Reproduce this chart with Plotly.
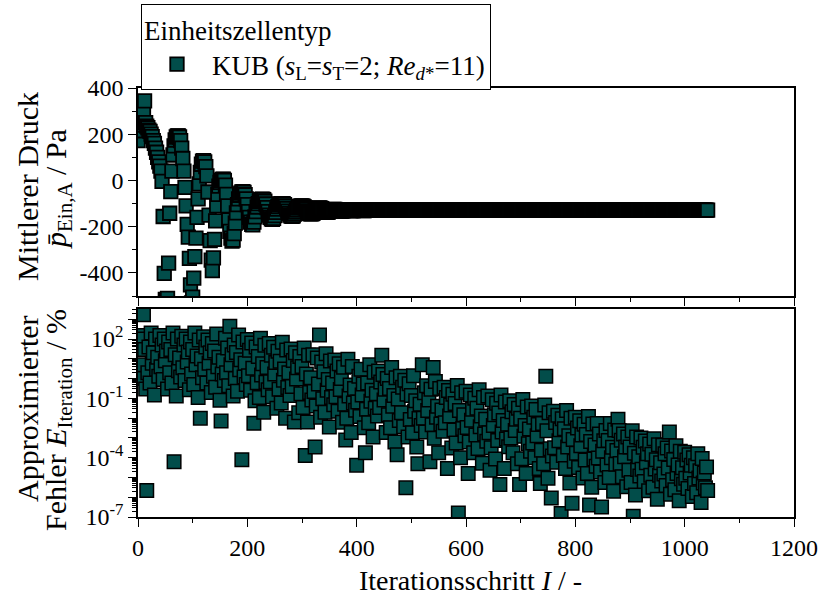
import plotly.graph_objects as go

# ---------------- data ----------------
# mean inlet pressure (Pa), one value every 2 iterations (0, 2, 4, ...)
P_MEAN = [
    172, 215, 262, 250, 240, 300, 344, 250, 235, 228,          # 0
    218, 212, 200, 190, 172, 160, 140, 122, 100, 80,           # 20
    62, 40, -4, -156, -402, -515, -520, -510, -358, -142,      # 40
    -48, 40, 110, 150, 175, 188, 193, 193, 188, 172,           # 60
    140, 95, 40, -30, -110, -190, -245, -337, -452, -530,      # 80
    -505, -423, -330, -250, -160, -80, -15, 35, 70, 84,        # 100
    86, 80, 60, 20, -50, -150, -260, -345, -390, -335,         # 120
    -255, -175, -110, -60, -25, -8, 0, 5, 6, 0,                # 140
    -20, -60, -110, -170, -220, -250, -262, -258, -230, -185,  # 160
    -140, -105, -80, -64, -55, -50, -49, -52, -62, -80,        # 180
    -105, -135, -160, -180, -190, -192, -180, -158, -135, -115,  # 200
    -100, -90, -84, -82, -81, -83, -90, -102, -118, -135,      # 220
    -150, -160, -166, -168, -164, -152, -138, -124, -113, -106,  # 240
    -102, -100, -100, -101, -105, -112, -122, -133, -143, -150,  # 260
    -154, -155, -153, -146, -137, -128, -120, -115, -112, -110,  # 280
    -110, -111, -114, -119, -126, -133, -139, -143, -145, -145,  # 300
    -142, -137, -131, -126, -122, -120, -119, -120, -122, -126,  # 320
    -130, -134, -137, -138, -137, -134, -131, -128, -126, -125,  # 340
    -125, -126, -128, -130, -132, -133, -133, -132, -130, -128,  # 360
    -127, -127, -128, -129, -130, -131, -131, -130, -129, -128,  # 380
    -127, -126, -126, -127, -128, -129, -130, -130, -129, -128,  # 400
    -127, -127, -127, -128, -129, -129, -129, -128, -128, -127,  # 420
    -127, -127, -128, -128, -129, -129, -128, -128, -128, -127,  # 440
    -128, -128, -128, -129, -129, -128, -128, -128, -128, -128,  # 460
    -128, -128, -127, -128, -128, -129, -129, -128, -128, -128,  # 480
    -128, -128, -128, -128, -129, -128, -128, -128, -127, -128,  # 500
    -128, -128, -129, -128, -128, -128, -128, -127, -128, -128,  # 520
    -128, -129, -128, -128, -128, -128, -128, -128, -129, -128,  # 540
    -128, -128, -127, -128, -128, -128, -129, -128, -128, -128,  # 560
    -128, -128, -128, -128, -128, -129, -128, -128, -128, -127,  # 580
    -128, -128, -128, -129, -128, -128, -128, -128, -128, -128,  # 600
    -127, -128, -128, -128, -128, -129, -128, -128, -128, -128,  # 620
    -128, -128, -128, -128, -127, -128, -128, -129, -128, -128,  # 640
    -128, -128, -129, -128, -128, -128, -128, -128, -127, -128,  # 660
    -128, -128, -128, -128, -128, -128, -129, -128, -128, -128,  # 680
    -128, -127, -128, -128, -128, -128, -128, -128, -129, -128,  # 700
    -128, -128, -128, -129, -128, -128, -127, -128, -128, -128,  # 720
    -128, -128, -128, -128, -128, -129, -128, -128, -128, -128,  # 740
    -127, -128, -128, -128, -129, -128, -128, -128, -128, -128,  # 760
    -128, -128, -128, -127, -128, -128, -128, -129, -128, -128,  # 780
    -128, -128, -129, -128, -128, -128, -128, -128, -127, -128,  # 800
    -128, -128, -128, -128, -128, -129, -128, -128, -128, -128,  # 820
    -128, -127, -128, -128, -128, -128, -128, -129, -128, -128,  # 840
    -128, -128, -128, -128, -129, -128, -128, -127, -128, -128,  # 860
    -128, -128, -128, -128, -128, -128, -129, -128, -128, -128,  # 880
    -127, -128, -128, -128, -128, -128, -128, -128, -129, -128,  # 900
    -128, -128, -129, -128, -128, -127, -128, -128, -128, -128,  # 920
    -128, -128, -128, -128, -128, -128, -128, -129, -128, -128,  # 940
    -128, -127, -128, -128, -128, -129, -128, -128, -128, -128,  # 960
    -128, -128, -128, -128, -127, -128, -128, -128, -129, -128,  # 980
    -128, -128, -128, -129, -128, -128, -128, -128, -128, -127,  # 1000
    -128, -128, -128, -128, -128, -128, -129, -128, -128, -128,  # 1020
    -128, -128,                                                 # 1040
]
ITER_P = list(range(0, 2 * len(P_MEAN), 2))

# approximated iteration error (%), one value every 2 iterations (0, 2, 4, ...)
E_ITER = [
    1.5e2, 5, 5e1, 1, 1e2, 1.7e3, 3e1, 3e-1, 2.2e-6, 2,                              # 0
    4e1, 6e-1, 2e2, 6, 2e1, 1.5e-1, 1e2, 3, 1.2e1, 1.3,                              # 20
    1.5e2, 4, 5e1, 9e-1, 1e2, 8, 2.5e1, 3e-1, 7e1, 2,                                # 40
    3e1, 6e-1, 2e2, 6.3e-5, 1.6e1, 1.3e-1, 1e2, 2.5, 1.1e1, 1.2,                     # 60
    1.4e2, 3.5, 5e1, 8e-1, 1e2, 7, 2.2e1, 2.7e-1, 7e1, 1.7,                          # 80
    3e1, 5e-1, 2e2, 5, 1.4e1, 1.1e-1, 9e1, 1e-2, 1e1, 1.1,                           # 100
    1.3e2, 3, 4e1, 6e-1, 9e1, 6, 2e1, 2e-1, 6e1, 1.3,                                # 120
    2.5e1, 3.7e-1, 1.8e2, 4, 1.2e1, 8e-2, 7.1e-3, 1.7, 8, 8e-1,                      # 140
    1.1e2, 2, 3.5e1, 4.4e-1, 4.4e2, 5, 1.6e1, 1.3e-1, 5e1, 1,                        # 160
    2.1e1, 2.3e-1, 1.6e2, 2.8, 9, 7.9e-5, 7e1, 1.2, 6, 5e-1,                         # 180
    9.5e1, 1.4, 2.7e1, 2.6e-1, 6.3e1, 3.3, 5.5e-3, 7.6e-2, 4e1, 6.2e-1,              # 200
    1.3e1, 1.1e-1, 1.1e2, 1.5, 5.6, 2e-2, 4.9e1, 6.5e-1, 3.6, 2.7e-1,                # 220
    5.9e1, 6.9e-1, 1.5e1, 1.2e-1, 3.8e1, 1.7, 6.5, 3.2e-2, 2.4e1, 2.9e-1,            # 240
    7.6, 5.9e-2, 6.8e1, 8.3e-1, 3.1, 1e-2, 2.8e1, 3.5e-1, 2, 1.4e-1,                 # 260
    3.1e1, 4e-1, 8.3, 6.3e-3, 2e1, 9.5e-1, 3.5, 1.9e-2, 1.3e1, 1.7e-1,               # 280
    4.1, 3.5e-2, 3.5e1, 1.3e-4, 1.7, 6.3e-3, 1.5e1, 2e-1, 1.1, 8.3e-2,               # 300
    1.6e1, 2.2e-1, 3.5e-4, 4.1e-2, 1.1e1, 5.4e-1, 1.6e2, 1.1e-2, 6.9, 9.5e-2,        # 320
    2.2, 2e-2, 1.8e1, 2.6e-1, 9.1e-1, 3.6e-3, 7.8, 1.1e-1, 6e-1, 4.7e-2,             # 340
    8.7, 1.2e-1, 2.4, 2.2e-2, 5.6, 2.8e-1, 1, 6.2e-3, 3.7, 5.1e-2,                   # 360
    7.9e-4, 1e-2, 9.5, 1.3e-1, 4.8e-1, 1.9e-3, 4.1, 5.8e-2, 3.2e-1, 2.5e-2,          # 380
    4.2e-5, 6.5e-2, 1.3, 1.2e-2, 3, 1.5e-1, 5.4e-1, 3.3e-3, 1.8e-4, 2.8e-2,          # 400
    6e-1, 5.8e-3, 5, 7.2e-2, 2.6e-1, 1.1e-3, 2.1, 3.2e-2, 1.7e-1, 1.3e-2,            # 420
    2.4, 3.5e-2, 6.8e-1, 1.5e1, 1.6, 8.3e-2, 2.9e-1, 1.9e-3, 1, 1.5e-2,              # 440
    3.2e-1, 3.3e-3, 3.6, 4e-2, 1.4e-1, 6.2e-4, 1.1, 1.4e-4, 9.3e-2, 7.6e-3,          # 460
    1.3, 1.9e-2, 3.6e-1, 3.7e-3, 8.3e-1, 3e-6, 1.6e-1, 1.1e-3, 5.5e-1, 8.5e-3,       # 480
    1.4e-1, 1.8e-3, 1.4, 2.2e-2, 7.6e-2, 3.5e-4, 5e-5, 9.5e-3, 5e-2, 4.2e-3,         # 500
    5, 1e-2, 1.9e-1, 2e-3, 4.4e-1, 2.4e-2, 8.3e-2, 6.3e-5, 2.9e-1, 4.6e-3,           # 520
    3.6, 9.5e-4, 7.2e-1, 1.1e-2, 4e-2, 1.8e-4, 3.2e-1, 5e-3, 2.6e-2, 2.2e-3,         # 540
    3.7e-1, 5.8e-3, 1.1e-1, 2.8e-5, 2.5e-1, 1.3e-2, 4.6e-2, 3.1e-4, 1.6e-1, 2.5e-3,  # 560
    5.5e-2, 5.5e-4, 4.5e-1, 1.6e-7, 2.4e-2, 1e-4, 1.9e-1, 3e-3, 1.5e-2, 1.3e-3,      # 580
    2.3e-1, 3.4e-3, 1.6e-5, 6.3e-4, 1.5e-1, 7.9e-3, 2.8e-2, 1.8e-4, 1e-1, 1.4e-3,    # 600
    3.2e-2, 2.9e-4, 2.7e-1, 3.7e-3, 1.3e-2, 5.2e-5, 1.1e-1, 1.6e-3, 8.9e-3, 6.8e-4,  # 620
    1.3e-1, 1.8e-3, 2.3e-5, 3.2e-4, 8.5e-2, 4.2e-3, 1.5e-2, 8.5e-5, 5.6e-2, 7.4e-4,  # 640
    1.8e-2, 4.4e-6, 1.5e-1, 2e-3, 7.6e-3, 2.8e-5, 6.5e-2, 8.7e-4, 4.9e-3, 3.6e-4,    # 660
    7.6e-2, 1e-3, 2.1e-2, 1.8e-4, 4.9e-2, 2.4e-3, 8.7e-3, 4.9e-5, 3.2e-2, 4.4e-6,    # 680
    1e-2, 8.9e-5, 8.7e-2, 1.2e-3, 4.3e-3, 1.6e-5, 3.7e-2, 5e-4, 2.8e-3, 2.1e-4,      # 700
    4.1e-2, 5.6e-4, 1.1e-2, 1e-4, 2.7e-2, 1.3e-3, 4.8e-3, 2.8e-5, 5e-6, 2.4e-4,      # 720
    5.4e-3, 5e-5, 4.6e-2, 1.3, 2.3e-3, 9.1e-6, 1.9e-2, 2.8e-4, 9.1e-7, 1.2e-4,       # 740
    2.2e-2, 3.2e-4, 6e-3, 5.8e-5, 1.4e-2, 7.2e-4, 2.6e-3, 1.5e-7, 9.3e-3, 1.3e-4,    # 760
    2.9e-3, 2.8e-5, 2.4e-2, 3.5e-4, 1.3e-3, 5.2e-6, 1e-2, 5e-7, 8.3e-4, 6.6e-5,      # 780
    1.1e-2, 1.7e-4, 3.2e-3, 3.2e-5, 7.4e-3, 4e-4, 1.4e-3, 9.3e-6, 4.9e-3, 7.6e-5,    # 800
    1.5e-3, 1.6e-5, 1.2e-2, 4e-7, 6.6e-4, 3.2e-6, 5.1e-3, 8.5e-5, 4.4e-4, 3.7e-5,    # 820
    5.4e-3, 9.5e-5, 1.6e-3, 1.9e-5, 3.2e-7, 2.1e-4, 7.2e-4, 5.6e-6, 2.4e-3, 4.3e-5,  # 840
    7.4e-4, 1e-5, 5.4e-3, 1e-4, 3.4e-4, 2e-6, 2.5e-3, 4.7e-5, 2.3e-4, 8.7e-3,        # 860
    2.4e-3, 5.1e-5, 7.6e-4, 1.1e-5, 1.6e-3, 1.1e-4, 3.5e-4, 3.4e-6, 1.1e-3, 2.3e-5,  # 880
    3.5e-4, 5.6e-6, 2.3e-3, 1.1e-7, 1.7e-4, 1.3e-6, 1.1e-3, 2.5e-5, 1.1e-4, 1.2e-5,  # 900
    1e-3, 2.6e-5, 3.4e-4, 6.2e-6, 6.9e-4, 5.5e-5, 1.6e-4, 2.1e-6, 4.9e-4, 1.3e-5,    # 920
    1.5e-4, 3.2e-6, 9.1e-4, 2.7e-5, 7.8e-5, 7.9e-7, 4.5e-4, 1.3e-5, 5.5e-5, 6.6e-6,  # 940
    4.3e-4, 1.5e-5, 1.6e-4, 3.9e-6, 3.1e-4, 3e-5, 2e-3, 1.4e-6, 2.2e-4, 7.6e-6,      # 960
    8.1e-5, 2.4e-6, 4e-4, 1.6e-5, 4.3e-5, 6.6e-7, 2.1e-4, 8.5e-6, 3.1e-5, 4.5e-6,    # 980
    1.9e-4, 9.1e-6, 7.6e-5, 2.8e-6, 1.4e-4, 1.7e-5, 4.2e-5, 1.1e-6, 1e-4, 5e-6,      # 1000
    3.9e-5, 1.7e-6, 1.6e-4, 9.3e-6, 2.2e-5, 5.4e-7, 9.1e-5, 5.2e-6, 1.7e-5, 3e-6,    # 1020
    3.4e-5, 2.2e-6,                                                                  # 1040
]
ITER_E = list(range(0, 2 * len(E_ITER), 2))

X_TICKS = [0, 200, 400, 600, 800, 1000, 1200]
P_TICKS = [-400, -200, 0, 200, 400]
P_TICKTEXT = ["-400", "-200", "0", "200", "400"]
E_MAJOR = [1e3, 1e2, 1e1, 1e0, 1e-1, 1e-2, 1e-3, 1e-4, 1e-5, 1e-6, 1e-7]
E_TICKTEXT = ["", "10<sup>2</sup>", "", "", "10<sup>-1</sup>", "", "",
              "10<sup>-4</sup>", "", "", "10<sup>-7</sup>"]
E_MINOR = [m * 10.0 ** d for d in range(-7, 4) for m in range(2, 10)]

SERIES_NAME = ("KUB (<i>s</i><sub>L</sub>=<i>s</i><sub>T</sub>=2; "
               "<i>Re</i><sub><i>d</i>*</sub>=11)")

# ---------------- style ----------------
FILL = "#024D4A"
FONT = "Liberation Serif"
marker_top = dict(symbol="square", size=13.5, color=FILL,
                  line=dict(color="black", width=1.8))
marker_bot = dict(symbol="square", size=13.5, color=FILL,
                  line=dict(color="black", width=1.5))

fig = go.Figure()
fig.add_trace(go.Scatter(x=ITER_P, y=P_MEAN, mode="markers", marker=marker_top,
                         name=SERIES_NAME, xaxis="x", yaxis="y",
                         showlegend=True))
fig.add_trace(go.Scatter(x=ITER_E, y=E_ITER, mode="markers", marker=marker_bot,
                         name=SERIES_NAME, xaxis="x2", yaxis="y2",
                         showlegend=False))

axis_common = dict(showline=True, linecolor="black", linewidth=1.5,
                   mirror=True, ticks="outside", ticklen=8, tickwidth=1.3,
                   tickcolor="black", showgrid=False, zeroline=False,
                   tickfont=dict(family=FONT, size=24, color="black"))
minor_lin = dict(dtick=100, ticklen=4, tickwidth=1.3, tickcolor="black",
                 ticks="outside")

H_TOP = (517 - 296) / 429
H_BOT = (517 - 309) / 429

fig.update_layout(
    width=824, height=599,
    margin=dict(l=138, r=30, t=88, b=82, autoexpand=False),
    paper_bgcolor="white", plot_bgcolor="white",
    font=dict(family=FONT, size=24, color="black"),
    xaxis=dict(domain=[0, 1], anchor="y", range=[0, 1200],
               tickmode="array", tickvals=X_TICKS, showticklabels=False,
               minor=minor_lin, **axis_common),
    yaxis=dict(domain=[H_TOP, 1], anchor="x", range=[-500, 400],
               tickmode="array", tickvals=P_TICKS, ticktext=P_TICKTEXT,
               minor=minor_lin, **axis_common),
    xaxis2=dict(domain=[0, 1], anchor="y2", range=[0, 1200],
                tickmode="array", tickvals=X_TICKS,
                ticktext=[str(v) for v in X_TICKS],
                minor=minor_lin, **axis_common),
    yaxis2=dict(domain=[0, H_BOT], anchor="x2", type="log", range=[-7, 3.52],
                tickmode="array", tickvals=E_MAJOR, ticktext=E_TICKTEXT,
                minor=dict(tickmode="array", tickvals=E_MINOR, ticklen=4,
                           tickwidth=1, tickcolor="black", ticks="outside"),
                **axis_common),
    legend=dict(x=3 / 656, y=(517 - 4) / 429, xanchor="left", yanchor="top",
                bgcolor="white", bordercolor="black", borderwidth=1,
                itemwidth=60,
                font=dict(family=FONT, size=27, color="black"),
                title=dict(text="Einheitszellentyp",
                           font=dict(family=FONT, size=27, color="black"))),
    showlegend=True,
)

def ytitle(text, px, py):
    fig.add_annotation(text=text, xref="paper", yref="paper",
                       x=(px - 138) / 656, y=(517 - py) / 429,
                       xanchor="center", yanchor="middle", textangle=-90,
                       showarrow=False,
                       font=dict(family=FONT, size=30, color="black"))

ytitle("Mittlerer Druck", 27, 186)
ytitle("<i>p\u0304</i><sub>Ein,A</sub> / Pa", 58, 189)
ytitle("Approximierter", 27, 408)
ytitle("Fehler <i>E</i><sub>Iteration</sub> / %", 58, 420)

fig.add_annotation(text="Iterationsschritt <i>I</i> / -", xref="paper",
                   yref="paper", x=(470 - 138) / 656, y=(517 - 580) / 429,
                   xanchor="center", yanchor="middle", showarrow=False,
                   font=dict(family=FONT, size=28, color="black"))

fig.write_html("out.html")
